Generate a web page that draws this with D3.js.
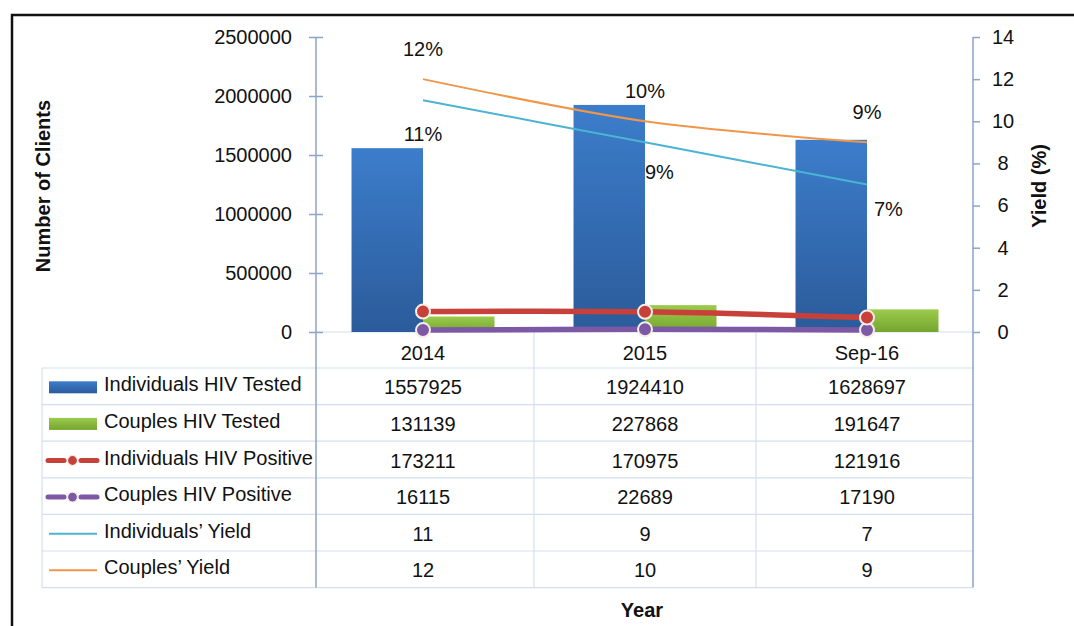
<!DOCTYPE html>
<html><head><meta charset="utf-8">
<script src="https://cdn.jsdelivr.net/npm/d3@7"></script>
<style>
html,body{margin:0;padding:0;background:#fff;}
svg{display:block;font-family:"Liberation Sans",Arial,Helvetica,sans-serif;}
</style></head>
<body><svg id="chart" width="1074" height="626"></svg>
<script>
const categories = ["2014", "2015", "Sep-16"];
const individualsTested = [1557925, 1924410, 1628697];
const couplesTested = [131139, 227868, 191647];
const individualsPositive = [173211, 170975, 121916];
const couplesPositive = [16115, 22689, 17190];
const individualsYield = [11, 9, 7];
const couplesYield = [12, 10, 9];
const leftTicks = [0, 500000, 1000000, 1500000, 2000000, 2500000];
const rightTicks = [0, 2, 4, 6, 8, 10, 12, 14];
const seriesNames = ["Individuals HIV Tested", "Couples HIV Tested", "Individuals HIV Positive",
  "Couples HIV Positive", "Individuals\u2019 Yield", "Couples\u2019 Yield"];

const C = {blue:"#3775c0", green:"#8bbd3e", red:"#c8403a", purple:"#7c58a5", cyan:"#4bb4d2", orange:"#f0964a",
  axis:"#8aa5c8", grid:"#d3dfee"};

const svg = d3.select("#chart");
const defs = svg.append("defs");
function grad(id, c1, c2){
  const g = defs.append("linearGradient").attr("id", id).attr("x1",0).attr("y1",0).attr("x2",0).attr("y2",1);
  g.append("stop").attr("offset","0%").attr("stop-color",c1);
  g.append("stop").attr("offset","100%").attr("stop-color",c2);
}
grad("gBlue", "#3c7dcb", "#2b5b9a");
grad("gGreen", "#9ccb4c", "#74a52f");

// frame
svg.append("rect").attr("x",12).attr("y",15).attr("width",1100).attr("height",700)
  .attr("fill","none").attr("stroke","#111").attr("stroke-width",2.5);

const axL = 316, axR = 973, y0 = 332, yTop = 37;
const x = d3.scaleBand().domain(categories).range([312, 978]);
const yL = d3.scaleLinear().domain([0, 2500000]).range([y0, yTop]);
const yR = d3.scaleLinear().domain([0, 14]).range([y0, yTop]);
const barW = x.bandwidth() * 0.322;
const cx = c => x(c) + x.bandwidth()/2;

// table geometry
const rowH = 36.6, tableTop = 368, tableLeft = 42;
const tableBottom = tableTop + rowH * seriesNames.length;

// table grid
const tg = svg.append("g").attr("stroke", C.grid).attr("stroke-width", 1.2);
d3.range(seriesNames.length + 1).forEach(i => {
  tg.append("line").attr("x1", tableLeft).attr("x2", axR).attr("y1", tableTop + i*rowH).attr("y2", tableTop + i*rowH);
});
tg.append("line").attr("x1", tableLeft).attr("x2", tableLeft).attr("y1", tableTop).attr("y2", tableBottom);
categories.slice(1).forEach(c => {
  tg.append("line").attr("x1", x(c)).attr("x2", x(c)).attr("y1", y0).attr("y2", tableBottom);
});
tg.append("line").attr("x1", axL).attr("x2", axR).attr("y1", y0).attr("y2", y0);

// bars
svg.append("g").selectAll("rect").data(categories).join("rect")
  .attr("x", c => cx(c) - barW).attr("width", barW)
  .attr("y", (c,i) => yL(individualsTested[i])).attr("height", (c,i) => y0 - yL(individualsTested[i]))
  .attr("fill", "url(#gBlue)");
svg.append("g").selectAll("rect").data(categories).join("rect")
  .attr("x", c => cx(c)).attr("width", barW)
  .attr("y", (c,i) => yL(couplesTested[i])).attr("height", (c,i) => y0 - yL(couplesTested[i]))
  .attr("fill", "url(#gGreen)");

// axes
const left = svg.append("g").attr("transform", `translate(${axL},0)`)
  .call(d3.axisLeft(yL).tickValues(leftTicks).tickFormat(d3.format("d")).tickSize(7).tickPadding(17));
left.select(".domain").attr("stroke", C.axis).attr("stroke-width",1.5).attr("d", `M0,${yTop}V${tableBottom}`);
left.selectAll(".tick line").attr("stroke", C.axis).attr("stroke-width",1.5).attr("x1", 7).attr("x2", -7);
left.selectAll(".tick text").attr("font-size", 20).attr("fill","#111").attr("font-family",'"Liberation Sans",Arial,sans-serif');

const right = svg.append("g").attr("transform", `translate(${axR},0)`)
  .call(d3.axisRight(yR).tickValues(rightTicks).tickSize(7).tickPadding(0));
right.select(".domain").attr("stroke", C.axis).attr("stroke-width",1.5).attr("d", `M0,${yTop}V${tableBottom}`);
right.selectAll(".tick line").attr("stroke", C.axis).attr("stroke-width",1.5);
right.selectAll(".tick text").attr("font-size", 20).attr("fill","#111").attr("x", 30).attr("text-anchor","middle")
  .attr("font-family",'"Liberation Sans",Arial,sans-serif');

// category labels (x axis)
const xa = svg.append("g").attr("transform", `translate(0,${y0})`)
  .call(d3.axisBottom(x).tickSize(0).tickPadding(14));
xa.select(".domain").remove();
xa.selectAll(".tick text").attr("font-size", 20).attr("fill","#111").attr("font-family",'"Liberation Sans",Arial,sans-serif');

// positive lines
function posLine(vals, color){
  const pts = categories.map((c,i) => [cx(c), yL(vals[i])]);
  svg.append("path").datum(pts).attr("d", d3.line().curve(d3.curveCatmullRom.alpha(0.5)))
    .attr("fill","none").attr("stroke", color).attr("stroke-width", 5.5).attr("stroke-linecap","round");
  svg.append("g").selectAll("circle").data(pts).join("circle")
    .attr("cx", d => d[0]).attr("cy", d => d[1]).attr("r", 7)
    .attr("fill", color).attr("stroke", "#f6eee6").attr("stroke-width", 2);
}
posLine(couplesPositive, C.purple);
posLine(individualsPositive, C.red);

// yield lines
function yieldLine(vals, color){
  const pts = categories.map((c,i) => [cx(c), yR(vals[i])]);
  svg.append("path").datum(pts).attr("d", d3.line().curve(d3.curveCatmullRom.alpha(0.5)))
    .attr("fill","none").attr("stroke", color).attr("stroke-width", 2);
  return pts;
}
const ptsC = yieldLine(couplesYield, C.orange);
const ptsI = yieldLine(individualsYield, C.cyan);

// yield labels
const labelStyle = s => s.attr("font-size", 20).attr("fill","#111");
svg.append("g").selectAll("text").data(couplesYield).join("text")
  .attr("x", (d,i) => ptsC[i][0]).attr("y", (d,i) => ptsC[i][1] - 23)
  .attr("text-anchor","middle").text(d => d + "%").call(labelStyle);
const indDx = [0, 0, 7], indAnchor = ["middle", "start", "start"], indDy = [41, 37, 31];
svg.append("g").selectAll("text").data(individualsYield).join("text")
  .attr("x", (d,i) => ptsI[i][0] + indDx[i]).attr("y", (d,i) => ptsI[i][1] + indDy[i])
  .attr("text-anchor", (d,i) => indAnchor[i]).text(d => d + "%").call(labelStyle);

// table content
const tableValues = [individualsTested, couplesTested, individualsPositive, couplesPositive, individualsYield, couplesYield];
const symColors = [C.blue, C.green, C.red, C.purple, C.cyan, C.orange];
seriesNames.forEach((name, r) => {
  const yc = tableTop + r*rowH + rowH/2;
  const g = svg.append("g");
  if (r < 2) {
    g.append("rect").attr("x", 49).attr("y", yc - 5).attr("width", 48).attr("height", 12).attr("fill", r===0 ? "url(#gBlue)" : "url(#gGreen)");
  } else if (r < 4) {
    g.append("line").attr("x1", 48).attr("x2", 64).attr("y1", yc+1).attr("y2", yc+1)
      .attr("stroke", symColors[r]).attr("stroke-width", 5).attr("stroke-linecap","round");
    g.append("line").attr("x1", 81).attr("x2", 97).attr("y1", yc+1).attr("y2", yc+1)
      .attr("stroke", symColors[r]).attr("stroke-width", 5).attr("stroke-linecap","round");
    g.append("circle").attr("cx", 72.5).attr("cy", yc+1).attr("r", 5).attr("fill", symColors[r])
      .attr("stroke","#f6eee6").attr("stroke-width",1.2);
  } else {
    g.append("line").attr("x1", 49).attr("x2", 97).attr("y1", yc+1).attr("y2", yc+1)
      .attr("stroke", symColors[r]).attr("stroke-width", 2);
  }
  g.append("text").attr("x", 104).attr("y", yc + 5).attr("font-size", 20).attr("fill","#111").text(name);
  categories.forEach((c,i) => {
    g.append("text").attr("x", cx(c)).attr("y", yc + 8).attr("text-anchor","middle")
      .attr("font-size", 20).attr("fill","#111").text(tableValues[r][i]);
  });
});

// axis titles
svg.append("text").attr("transform", `translate(50,186) rotate(-90)`).attr("text-anchor","middle")
  .attr("font-size", 20).attr("font-weight","bold").attr("fill","#111").text("Number of Clients");
svg.append("text").attr("transform", `translate(1046,186) rotate(-90)`).attr("text-anchor","middle")
  .attr("font-size", 20).attr("font-weight","bold").attr("fill","#111").text("Yield (%)");
svg.append("text").attr("x", 642).attr("y", 617).attr("text-anchor","middle")
  .attr("font-size", 20).attr("font-weight","bold").attr("fill","#111").text("Year");
</script></body></html>
